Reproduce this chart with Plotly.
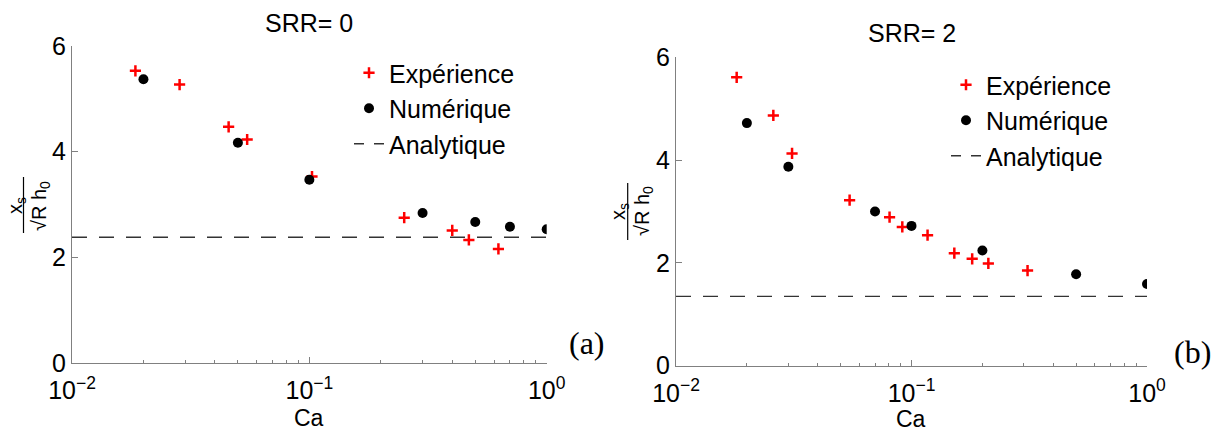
import plotly.graph_objects as go

# ---------------- data ----------------
# Panel (a) SRR = 0
exp_a_ca = [0.0185, 0.0284, 0.0457, 0.0547, 0.1026, 0.251, 0.400, 0.470, 0.626]
exp_a_y = [5.53, 5.27, 4.47, 4.23, 3.53, 2.75, 2.51, 2.33, 2.16]
num_a_ca = [0.02, 0.05, 0.1, 0.3, 0.5, 0.7, 1.0]
num_a_y = [5.37, 4.17, 3.47, 2.84, 2.67, 2.58, 2.53]
ana_a_ca = [0.01, 1.0]
ana_a_y = [2.38, 2.38]

# Panel (b) SRR = 2
exp_b_ca = [0.0181, 0.0259, 0.0311, 0.0546, 0.0807, 0.0914, 0.117, 0.152, 0.181, 0.212, 0.311]
exp_b_y = [5.61, 4.87, 4.13, 3.22, 2.89, 2.70, 2.54, 2.19, 2.08, 1.99, 1.85]
num_b_ca = [0.02, 0.03, 0.07, 0.1, 0.2, 0.5, 1.0]
num_b_y = [4.72, 3.87, 3.00, 2.72, 2.24, 1.78, 1.59]
ana_b_ca = [0.01, 1.0]
ana_b_y = [1.35, 1.35]

x_tickvals = [0.01, 0.1, 1]
x_ticktext = ["10<sup>−2</sup>", "10<sup>−1</sup>", "10<sup>0</sup>"]
y_tickvals = [0, 2, 4, 6]
legend_names = ["Expérience", "Numérique", "Analytique"]
titles = ["SRR= 0", "SRR= 2"]
panel_tags = ["(a)", "(b)"]

W, H = 1225, 432
FONT = "Liberation Sans, Arial, sans-serif"
SERIF = "Liberation Serif, Times New Roman, serif"
AXCOL = "#808080"
FS = 25

minor_vals = [m * 10 ** e for e in (-2, -1) for m in range(2, 10)]

fig = go.Figure()

def add_panel(idx, exp_x, exp_y, num_x, num_y, ana_x, ana_y):
    xa = "x" if idx == 1 else "x2"
    ya = "y" if idx == 1 else "y2"
    lg = "legend" if idx == 1 else "legend2"
    fig.add_trace(go.Scatter(x=exp_x, y=exp_y, mode="markers", name=legend_names[0],
                             marker=dict(symbol="cross-thin", size=8, color="red",
                                         line=dict(color="red", width=2.5)),
                             xaxis=xa, yaxis=ya, legend=lg))
    fig.add_trace(go.Scatter(x=num_x, y=num_y, mode="markers", name=legend_names[1],
                             marker=dict(symbol="circle", size=10, color="black"),
                             xaxis=xa, yaxis=ya, legend=lg))
    fig.add_trace(go.Scatter(x=ana_x, y=ana_y, mode="lines", name=legend_names[2],
                             line=dict(color="#333333", width=1.3, dash="15px,12px"),
                             showlegend=False, xaxis=xa, yaxis=ya, legend=lg))
    # legend entry for the analytic line (shorter dash so that "– –" shows in the legend)
    fig.add_trace(go.Scatter(x=[None], y=[None], mode="lines", name=legend_names[2],
                             line=dict(color="#333333", width=1.3, dash="10px,10px"),
                             xaxis=xa, yaxis=ya, legend=lg))

add_panel(1, exp_a_ca, exp_a_y, num_a_ca, num_a_y, ana_a_ca, ana_a_y)
add_panel(2, exp_b_ca, exp_b_y, num_b_ca, num_b_y, ana_b_ca, ana_b_y)

def px(x):
    return x / W

def py(y):
    return 1 - y / H

xcommon = dict(type="log", range=[-2, 0], tickvals=x_tickvals, ticktext=x_ticktext,
               ticks="inside", ticklen=6, tickcolor=AXCOL, showline=True, linecolor=AXCOL,
               linewidth=1, showgrid=False, zeroline=False, mirror=False,
               ticklabelstandoff=5,
               tickfont=dict(family=FONT, size=FS, color="black"),
               minor=dict(tickvals=minor_vals, ticks="inside", ticklen=3, tickcolor=AXCOL,
                          showgrid=False))
ycommon = dict(range=[0, 6], tickvals=y_tickvals, ticks="inside", ticklen=6, tickcolor=AXCOL,
               showline=True, linecolor=AXCOL, linewidth=1, showgrid=False, zeroline=False,
               tickfont=dict(family=FONT, size=FS, color="black"))

panels = [
    dict(xl=72, xr=546.7, yb=363, yt=46),
    dict(xl=676, xr=1147, yb=365.7, yt=57.3),
]

fig.update_layout(
    width=W, height=H,
    margin=dict(l=0, r=0, t=0, b=0, autoexpand=False),
    paper_bgcolor="white", plot_bgcolor="white",
    font=dict(family=FONT, size=FS, color="black"),
    xaxis=dict(domain=[px(panels[0]["xl"]), px(panels[0]["xr"])], anchor="y", **xcommon),
    yaxis=dict(domain=[py(panels[0]["yb"]), py(panels[0]["yt"])], anchor="x", **ycommon),
    xaxis2=dict(domain=[px(panels[1]["xl"]), px(panels[1]["xr"])], anchor="y2", **xcommon),
    yaxis2=dict(domain=[py(panels[1]["yb"]), py(panels[1]["yt"])], anchor="x2", **ycommon),
    legend=dict(x=px(349), y=py(50), xanchor="left", yanchor="top",
                bgcolor="rgba(0,0,0,0)", font=dict(family=FONT, size=FS, color="black"),
                itemsizing="trace"),
    legend2=dict(x=px(946), y=py(62), xanchor="left", yanchor="top",
                 bgcolor="rgba(0,0,0,0)", font=dict(family=FONT, size=FS, color="black"),
                 itemsizing="trace"),
    showlegend=True,
)

def ann(text, x, y, font, angle=0):
    return dict(text=text, x=px(x), y=py(y), xref="paper", yref="paper",
                xanchor="center", yanchor="middle", showarrow=False,
                textangle=angle, font=font)

FT = dict(family=FONT, size=FS, color="black")
FC = dict(family=FONT, size=23, color="black")
annots = [
    ann(titles[0], 309, 22.5, FT),
    ann(titles[1], 912, 33.5, FT),
    ann("Ca", 309, 417.5, FC),
    ann("Ca", 911, 418.5, FC),
    ann(panel_tags[0], 587, 343, dict(family=SERIF, size=32, color="black")),
    ann(panel_tags[1], 1192, 352, dict(family=SERIF, size=32, color="black")),
]
shapes = []
for num_x, bar_x, den_x, yc, yb0, yb1 in [(16, 23.5, 40, 206, 177, 233),
                                          (619, 627.7, 643, 211, 183, 240)]:
    annots.append(ann("x<sub>s</sub>", num_x, yc, dict(family=FONT, size=20, color="black"), -90))
    annots.append(ann("√R h<sub>0</sub>", den_x, yc, dict(family=FONT, size=20, color="black"), -90))
    shapes.append(dict(type="line", xref="paper", yref="paper", x0=px(bar_x), x1=px(bar_x),
                       y0=py(yb0), y1=py(yb1), line=dict(color="black", width=1.2)))

fig.update_layout(annotations=annots, shapes=shapes)

fig.write_html("out.html", config={"displayModeBar": False},
               post_script="document.body.style.margin='0';document.body.style.padding='0';"
                           "document.body.style.overflow='hidden';")
